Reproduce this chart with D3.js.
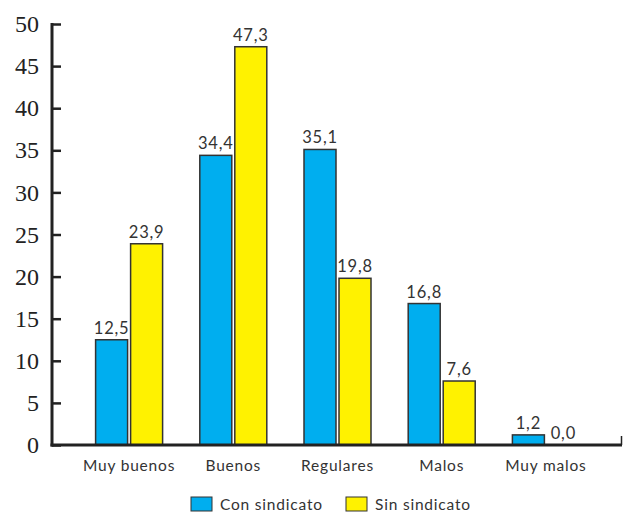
<!DOCTYPE html>
<html>
<head>
<meta charset="utf-8">
<script src="https://cdn.jsdelivr.net/npm/d3@7"></script>
<style>
  html, body { margin: 0; padding: 0; background: #fff; }
  svg { display: block; }
  .lbl { font-family: Lato, "DejaVu Sans", sans-serif; fill: #333; letter-spacing: 0.8px; }
</style>
</head>
<body>
<svg id="chart" width="623" height="514"></svg>
<script>
// Evaluation of working conditions, with and without union membership (%)
const categories = ["Muy buenos", "Buenos", "Regulares", "Malos", "Muy malos"];
const seriesNames = ["Con sindicato", "Sin sindicato"];
const conSindicato = [12.5, 34.4, 35.1, 16.8, 1.2];
const sinSindicato = [23.9, 47.3, 19.8, 7.6, 0.0];
const yTicks = [0, 5, 10, 15, 20, 25, 30, 35, 40, 45, 50];
const colors = ["#00aeef", "#fff200"];

const svg = d3.select("#chart");
const axisX = 52, baseY = 445, topY = 24, rightX = 622;

const y = d3.scaleLinear().domain([0, 50]).range([baseY, topY]);
const x = d3.scaleBand().domain(categories).range([77, 598]).paddingInner(0).paddingOuter(0);
const barW = 32, gap = 3;

const series = [conSindicato, sinSindicato];
const fmt = v => v.toFixed(1).replace(".", ",");

// bars
series.forEach((vals, s) => {
  const g = svg.append("g");
  g.selectAll("rect").data(vals).enter().append("rect")
    .attr("x", (d, i) => x(categories[i]) + x.bandwidth() / 2 + (s === 0 ? -barW - gap / 2 : gap / 2))
    .attr("y", d => y(d))
    .attr("width", barW)
    .attr("height", d => baseY - y(d))
    .attr("fill", colors[s])
    .attr("stroke", "#333")
    .attr("stroke-width", d => d > 0 ? 1.5 : 0);
  g.selectAll("text").data(vals).enter().append("text")
    .attr("class", "lbl")
    .attr("x", (d, i) => x(categories[i]) + x.bandwidth() / 2 + (s === 0 ? -barW / 2 - gap / 2 : barW / 2 + gap / 2))
    .attr("y", d => y(d) - 6)
    .attr("text-anchor", "middle")
    .style("font-size", "16.5px")
    .text(d => fmt(d));
});

// y axis with serif numerals
const yAxis = d3.axisLeft(y).tickValues(yTicks).tickSize(0).tickPadding(13);
const ya = svg.append("g").attr("transform", `translate(${axisX},0)`).call(yAxis);
ya.select(".domain").remove();
ya.selectAll("text")
  .style("font-family", "'Times New Roman', 'Liberation Serif', 'DejaVu Serif', serif")
  .style("font-size", "24px")
  .style("fill", "#222");
ya.selectAll(".tick").append("line")
  .attr("x1", 0).attr("x2", 9)
  .attr("stroke", "#222").attr("stroke-width", 2.5);
svg.append("line")
  .attr("x1", axisX).attr("x2", axisX)
  .attr("y1", topY - 1).attr("y2", baseY + 1.5)
  .attr("stroke", "#222").attr("stroke-width", 3);

// x axis
svg.append("line")
  .attr("x1", axisX - 1.5).attr("x2", rightX)
  .attr("y1", baseY).attr("y2", baseY)
  .attr("stroke", "#222").attr("stroke-width", 3);
svg.append("line")
  .attr("x1", rightX - 0.5).attr("x2", rightX - 0.5)
  .attr("y1", baseY - 9).attr("y2", baseY)
  .attr("stroke", "#222").attr("stroke-width", 1.5);

svg.append("g").selectAll("text").data(categories).enter().append("text")
  .attr("class", "lbl")
  .attr("x", d => x(d) + x.bandwidth() / 2)
  .attr("y", 471)
  .attr("text-anchor", "middle")
  .style("font-size", "15.5px")
  .text(d => d);

// legend
const legendX = [191, 346];
const lg = svg.append("g");
seriesNames.forEach((name, s) => {
  lg.append("rect")
    .attr("x", legendX[s]).attr("y", 497)
    .attr("width", 21).attr("height", 14)
    .attr("fill", colors[s]).attr("stroke", "#333").attr("stroke-width", 1);
  lg.append("text")
    .attr("class", "lbl")
    .attr("x", legendX[s] + 29).attr("y", 510)
    .style("font-size", "15.5px")
    .text(name);
});
</script>
</body>
</html>
